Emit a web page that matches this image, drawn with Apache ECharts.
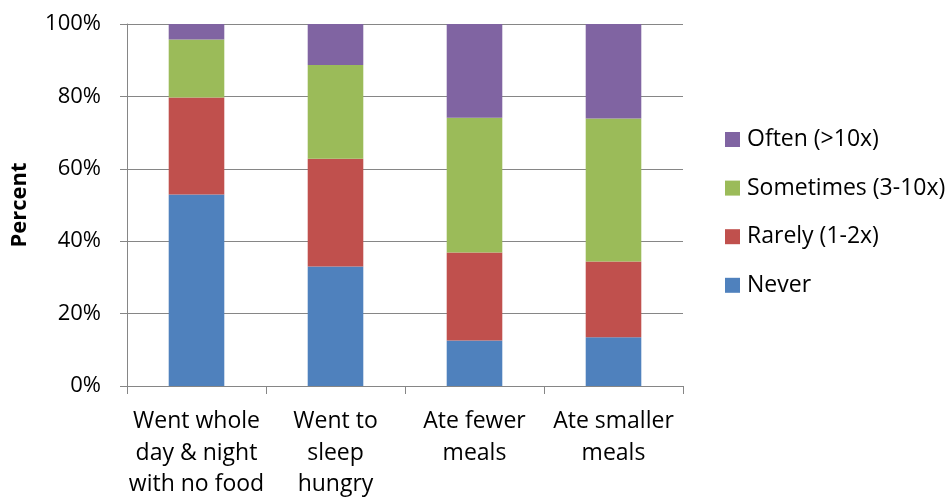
<!DOCTYPE html>
<html>
<head>
<meta charset="utf-8">
<script src="https://cdn.jsdelivr.net/npm/echarts@6/dist/echarts.min.js"></script>
<style>
  html, body { margin: 0; padding: 0; background: #fff; }
  #chart { width: 951px; height: 498px; }
</style>
</head>
<body>
<div id="chart"></div>
<script>
// Food-insecurity experiences, share of respondents by frequency
const categories = [
  'Went whole\nday & night\nwith no food',
  'Went to\nsleep\nhungry',
  'Ate fewer\nmeals',
  'Ate smaller\nmeals'
];
const never     = [52.9, 33.0, 12.6, 13.5];
const rarely    = [26.8, 29.8, 24.3, 20.9];
const sometimes = [16.0, 25.9, 37.2, 39.5];
const often     = [4.3, 11.3, 25.9, 26.1];
const yTicks = [0, 20, 40, 60, 80, 100];

const FONT = 'Open Sans';
const GRID_COLOR = '#868686';

const seriesDefs = [
  { name: 'Never', data: never, color: '#4F81BD' },
  { name: 'Rarely (1-2x)', data: rarely, color: '#C0504D' },
  { name: 'Sometimes (3-10x)', data: sometimes, color: '#9BBB59' },
  { name: 'Often (>10x)', data: often, color: '#8064A2' }
];

const chart = echarts.init(document.getElementById('chart'), null, { renderer: 'canvas' });
chart.setOption({
  animation: false,
  backgroundColor: '#fff',
  textStyle: { fontFamily: FONT },
  grid: {
    left: 127, right: 268, top: 24, bottom: 112,
    containLabel: false,
    outerBoundsMode: 'none'
  },
  legend: {
    orient: 'vertical',
    left: 725,
    top: 128,
    padding: 0,
    itemWidth: 15,
    itemHeight: 15,
    itemGap: 25.6,
    icon: 'rect',
    data: ['Often (>10x)', 'Sometimes (3-10x)', 'Rarely (1-2x)', 'Never'],
    textStyle: { fontFamily: FONT, fontSize: 23, color: '#000', lineHeight: 20, padding: [0, 0, 0, 2] }
  },
  xAxis: {
    type: 'category',
    data: categories,
    axisLine: { lineStyle: { color: GRID_COLOR, width: 1 } },
    axisTick: { show: true, length: 8, interval: 0, lineStyle: { color: GRID_COLOR } },
    axisLabel: {
      interval: 0,
      margin: 20,
      color: '#000',
      fontFamily: FONT,
      fontSize: 23,
      lineHeight: 31.5
    }
  },
  yAxis: {
    type: 'value',
    min: 0,
    max: 100,
    interval: 20,
    name: 'Percent',
    nameLocation: 'middle',
    nameGap: 96,
    nameRotate: 90,
    nameTextStyle: { fontFamily: FONT, fontSize: 22, fontWeight: 'bold', color: '#000' },
    axisLine: { show: true, lineStyle: { color: GRID_COLOR, width: 1 } },
    axisTick: { show: true, length: 7, lineStyle: { color: GRID_COLOR } },
    splitLine: { show: true, lineStyle: { color: GRID_COLOR, width: 1 } },
    axisLabel: {
      margin: 26,
      color: '#000',
      fontFamily: FONT,
      fontSize: 22,
      customValues: yTicks,
      formatter: v => v + '%'
    }
  },
  series: seriesDefs.map(s => ({
    name: s.name,
    type: 'bar',
    stack: 'total',
    barWidth: '40%',
    data: s.data,
    itemStyle: { color: s.color },
    emphasis: { disabled: true }
  }))
});
</script>
</body>
</html>
